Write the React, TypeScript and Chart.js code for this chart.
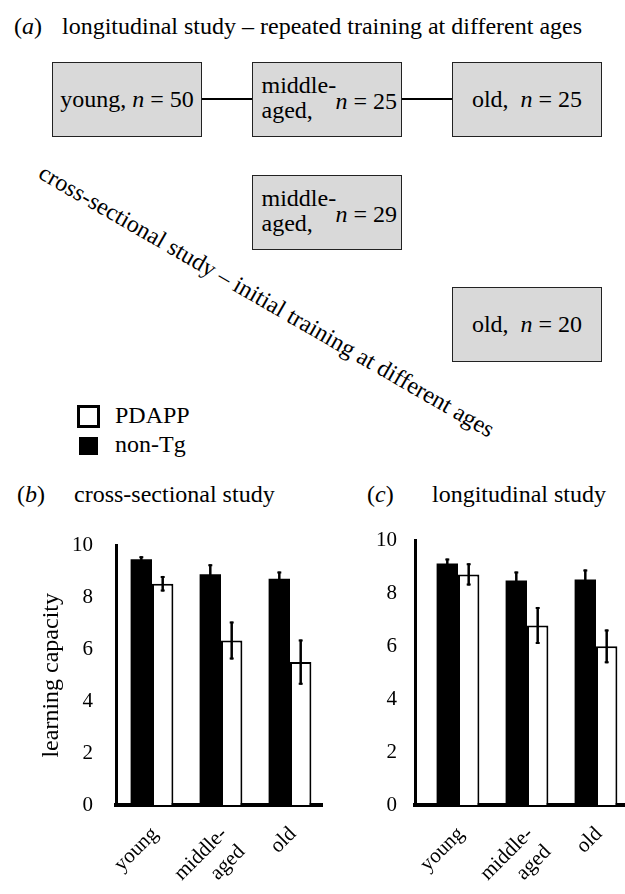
import React, { useEffect, useRef } from "react";
import { Chart, registerables } from "chart.js";

Chart.register(...registerables);

// ---------- data ----------
const categories = ["young", "middle-aged", "old"];
const tickLabels: (string | string[])[] = ["young", ["middle-", "aged"], "old"];
const yTickValues = [0, 2, 4, 6, 8, 10];

// (b) cross-sectional study
const crossNonTg = [9.47, 8.9, 8.72];
const crossNonTgErr = [0.12, 0.38, 0.28];
const crossPdapp = [8.53, 6.34, 5.51];
const crossPdappErr = [0.3, 0.73, 0.87];

// (c) longitudinal study
const longNonTg = [9.13, 8.49, 8.53];
const longNonTgErr = [0.19, 0.34, 0.38];
const longPdapp = [8.72, 6.79, 6.0];
const longPdappErr = [0.42, 0.7, 0.64];

// (a) diagram
const longitudinalGroups = [
  { label: "young,", n: 50 },
  { label: "middle-aged,", n: 25 },
  { label: "old,", n: 25 },
];
const crossGroups = [
  { label: "middle-aged,", n: 29 },
  { label: "old,", n: 20 },
];

const SERIF = "'Liberation Serif', 'Times New Roman', Times, serif";

const errorBarPlugin = {
  id: "errorBars",
  afterDatasetsDraw(chart: any) {
    const ctx = chart.ctx;
    const yScale = chart.scales.y;
    chart.data.datasets.forEach((ds: any, di: number) => {
      const errs = ds.errors;
      if (!errs) return;
      const meta = chart.getDatasetMeta(di);
      meta.data.forEach((el: any, i: number) => {
        const v = ds.data[i].y;
        const e = errs[i];
        const top = yScale.getPixelForValue(v + e);
        const bot = yScale.getPixelForValue(v - e);
        ctx.save();
        ctx.strokeStyle = "#000";
        ctx.lineWidth = 2.5;
        ctx.beginPath();
        ctx.moveTo(el.x, top);
        ctx.lineTo(el.x, bot);
        ctx.stroke();
        ctx.lineWidth = 2;
        ctx.beginPath();
        ctx.moveTo(el.x - 2, top + 1);
        ctx.lineTo(el.x + 2, top + 1);
        ctx.moveTo(el.x - 2, bot - 1);
        ctx.lineTo(el.x + 2, bot - 1);
        ctx.stroke();
        ctx.restore();
      });
    });
  },
};

type PanelProps = {
  left: number;
  top: number;
  width: number;
  height: number;
  nonTg: number[];
  nonTgErr: number[];
  pdapp: number[];
  pdappErr: number[];
  xMin: number;
  xMax: number;
  yWidth: number;
  tickPad: number;
  padRight: number;
  showTitle: boolean;
};

function BarPanel(p: PanelProps) {
  const ref = useRef<HTMLCanvasElement>(null);
  useEffect(() => {
    const chart = new Chart(ref.current as HTMLCanvasElement, {
      type: "bar",
      data: {
        datasets: [
          {
            label: "non-Tg",
            data: p.nonTg.map((y, i) => ({ x: i, y })),
            errors: p.nonTgErr,
            backgroundColor: "#000",
            borderWidth: 0,
            categoryPercentage: 0.62,
            barPercentage: 1.0,
          } as any,
          {
            label: "PDAPP",
            data: p.pdapp.map((y, i) => ({ x: i, y })),
            errors: p.pdappErr,
            backgroundColor: "#fff",
            borderColor: "#000",
            borderWidth: 2,
            categoryPercentage: 0.62,
            barPercentage: 1.0,
          } as any,
        ],
      },
      options: {
        animation: false,
        responsive: false,
        maintainAspectRatio: false,
        layout: { padding: { top: 30, right: p.padRight, left: 0, bottom: 0 } },
        plugins: {
          legend: { display: false },
          tooltip: { enabled: false },
        },
        scales: {
          x: {
            type: "linear",
            offset: false,
            min: p.xMin,
            max: p.xMax,
            grid: { display: false, drawTicks: false, offset: false },
            border: { display: true, color: "#000", width: 4 },
            afterBuildTicks: (s: any) => {
              s.ticks = categories.map((_, i) => ({ value: i }));
            },
            afterFit: (s: any) => {
              s.height = 89;
            },
            ticks: {
              autoSkip: false,
              minRotation: 45,
              maxRotation: 45,
              padding: 17,
              labelOffset: 3,
              color: "#000",
              font: { family: SERIF, size: 21 },
              callback: (v: any) => tickLabels[Math.round(Number(v))] ?? "",
            },
          },
          y: {
            min: 0,
            max: 10,
            grid: { display: false, drawTicks: false },
            border: { display: true, color: "#000", width: 3 },
            afterBuildTicks: (s: any) => {
              s.ticks = yTickValues.map((v) => ({ value: v }));
            },
            afterFit: (s: any) => {
              s.width = p.yWidth;
            },
            ticks: {
              padding: p.tickPad,
              color: "#000",
              font: { family: SERIF, size: 21 },
            },
            title: {
              display: p.showTitle,
              text: "learning capacity",
              color: "#000",
              font: { family: SERIF, size: 24 },
              padding: { top: 37, bottom: 0 },
            },
          },
        },
      },
      plugins: [errorBarPlugin],
    });
    return () => chart.destroy();
  }, []);
  return (
    <canvas
      ref={ref}
      width={p.width}
      height={p.height}
      style={{ position: "absolute", left: p.left, top: p.top, width: p.width, height: p.height, display: "block" }}
    />
  );
}

const txt = (extra: React.CSSProperties): React.CSSProperties => ({
  position: "absolute",
  fontFamily: SERIF,
  fontSize: 24,
  lineHeight: "24px",
  whiteSpace: "pre",
  color: "#000",
  ...extra,
});

const boxStyle = (left: number, top: number): React.CSSProperties => ({
  position: "absolute",
  left,
  top,
  width: 150,
  height: 75,
  boxSizing: "border-box",
  background: "#d9d9d9",
  border: "1.5px solid #222",
});

function SimpleBox({ left, top, label, n }: { left: number; top: number; label: string; n: number }) {
  return (
    <div style={{ ...boxStyle(left, top), display: "flex", alignItems: "center", justifyContent: "center" }}>
      <span style={{ fontFamily: SERIF, fontSize: 24, whiteSpace: "pre", color: "#000" }}>
        {label}
        {label === "old," ? "  " : " "}
        <i>n</i> = {n}
      </span>
    </div>
  );
}

function MiddleBox({ left, top, n }: { left: number; top: number; n: number }) {
  return (
    <div style={boxStyle(left, top)}>
      <span style={txt({ left: 8.5, top: 10 })}>middle-</span>
      <span style={txt({ left: 8.5, top: 35 })}>aged,</span>
      <span style={txt({ right: 4, top: 26 })}>
        <i>n</i> = {n}
      </span>
    </div>
  );
}

export default function App() {
  return (
    <div
      style={{
        position: "fixed",
        left: 0,
        top: 0,
        width: 625,
        height: 894,
        overflow: "hidden",
        background: "#fff",
      }}
    >
      {/* (a) */}
      <span style={txt({ left: 14, top: 14 })}>
        (<i>a</i>)
      </span>
      <span style={txt({ left: 62, top: 14 })}>longitudinal study – repeated training at different ages</span>

      <SimpleBox left={52} top={62} label={longitudinalGroups[0].label} n={longitudinalGroups[0].n} />
      <div style={{ position: "absolute", left: 202, top: 98, width: 50, height: 2, background: "#000" }} />
      <MiddleBox left={252} top={62} n={longitudinalGroups[1].n} />
      <div style={{ position: "absolute", left: 402, top: 98, width: 50, height: 2, background: "#000" }} />
      <SimpleBox left={452} top={62} label={longitudinalGroups[2].label} n={longitudinalGroups[2].n} />

      <MiddleBox left={252} top={175} n={crossGroups[0].n} />
      <SimpleBox left={452} top={287} label={crossGroups[1].label} n={crossGroups[1].n} />

      <div
        style={txt({
          left: 47,
          top: 160,
          transformOrigin: "0 0",
          transform: "rotate(30deg)",
        })}
      >
        cross-sectional study – initial training at different ages
      </div>

      {/* legend */}
      <div
        style={{
          position: "absolute",
          left: 77,
          top: 405,
          width: 23,
          height: 23,
          boxSizing: "border-box",
          border: "3.5px solid #000",
          background: "#fff",
        }}
      />
      <span style={txt({ left: 115, top: 403 })}>PDAPP</span>
      <div style={{ position: "absolute", left: 79, top: 437, width: 19, height: 18, background: "#000" }} />
      <span style={txt({ left: 115, top: 432 })}>non-Tg</span>

      {/* (b) / (c) titles */}
      <span style={txt({ left: 17, top: 482 })}>
        (<i>b</i>)
      </span>
      <span style={txt({ left: 74, top: 482 })}>cross-sectional study</span>
      <span style={txt({ left: 367, top: 482 })}>
        (<i>c</i>)
      </span>
      <span style={txt({ left: 432, top: 482 })}>longitudinal study</span>

      <BarPanel
        left={0}
        top={510}
        width={330}
        height={384}
        nonTg={crossNonTg}
        nonTgErr={crossNonTgErr}
        pdapp={crossPdapp}
        pdappErr={crossPdappErr}
        xMin={-36 / 69}
        xMax={-36 / 69 + 206 / 69}
        yWidth={116}
        tickPad={23}
        padRight={8}
        showTitle={true}
      />
      <BarPanel
        left={340}
        top={510}
        width={300}
        height={384}
        nonTg={longNonTg}
        nonTgErr={longNonTgErr}
        pdapp={longPdapp}
        pdappErr={longPdappErr}
        xMin={-43 / 69}
        xMax={-43 / 69 + 220 / 69}
        yWidth={75}
        tickPad={18}
        padRight={5}
        showTitle={false}
      />
    </div>
  );
}
